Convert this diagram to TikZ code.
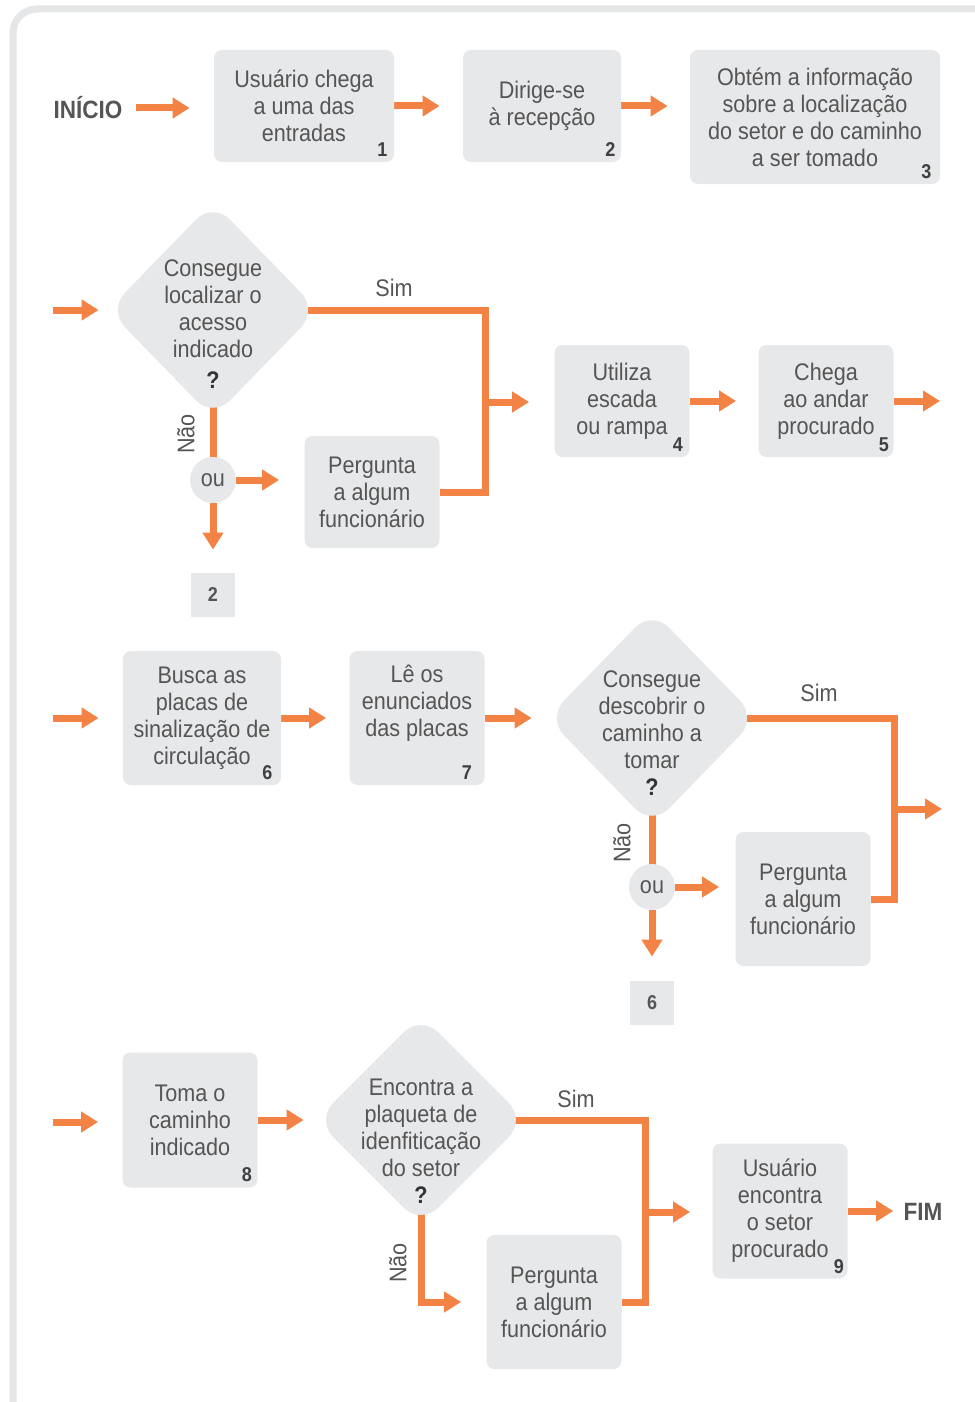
\documentclass[tikz,border=0pt]{standalone}
\usepackage{fontspec}
\setmainfont{Liberation Sans}[FakeStretch=0.9]
\usetikzlibrary{shapes.geometric,arrows.meta,backgrounds}
\definecolor{flowor}{RGB}{242,131,69}
\definecolor{boxgray}{RGB}{231,232,234}
\definecolor{txtgray}{RGB}{85,85,85}
\definecolor{framegray}{RGB}{229,230,232}
\begin{document}
\begin{tikzpicture}[x=0.5pt,y=-0.5pt,
  every node/.style={font=\fontsize{12}{13.5}\selectfont,text=txtgray},
  box/.style={fill=boxgray,rounded corners=4pt,align=center,inner sep=0pt,minimum width=67.5pt,minimum height=56pt},
  choice/.style={diamond,fill=boxgray,rounded corners=12pt,minimum width=105pt,minimum height=108pt,inner sep=0pt},
  orc/.style={circle,fill=boxgray,minimum size=23pt,inner sep=0pt},
  jump/.style={fill=boxgray,minimum size=22pt,inner sep=0pt,font=\fontsize{10}{12}\selectfont\bfseries},
  num/.style={font=\fontsize{10}{11}\selectfont\bfseries,text=black!75,inner sep=0pt},
  big/.style={font=\fontsize{12.5}{15}\selectfont\bfseries,inner sep=0pt},
  link/.style={draw=flowor,line width=3.5pt,line join=miter},
  flow/.style={link,-{Triangle[width=10pt,length=8.5pt]}}]
\path[use as bounding box,clip] (0,0) rectangle (974,1402);
\begin{scope}[on background layer]
\fill[white] (0,0) rectangle (974,1402);
\draw[framegray,line width=3.5pt,rounded corners=12pt] (13,9) rectangle (1010,1440);
\end{scope}

% linha 1
\node[big] (ini) at (88,108) {INÍCIO};
\node[box,minimum width=90pt] (b1) at (304,106) {Usuário chega\\a uma das\\entradas};
\node[box,minimum width=79pt] (b2) at (542,106) {Dirige-se\\à recepção};
\node[box,minimum width=125pt,minimum height=67pt] (b3) at (815,117) {Obtém a informação\\sobre a localização\\do setor e do caminho\\a ser tomado};
\node[num] (n1) at ([shift={(-12,-13)}]b1.south east) {1};
\node[num] (n2) at ([shift={(-11,-13)}]b2.south east) {2};
\node[num] (n3) at ([shift={(-14,-13)}]b3.south east) {3};

% linha 2
\coordinate (in2) at (53,310);
\node[choice] (d1) at (213,310) {};
\node[align=center] (t1) at (213,324) {Consegue\\localizar o\\acesso\\indicado\\[2pt]{\bfseries\color{black!80}?}};
\node[orc] (ou1) at (213,480) {ou};
\node[jump] (go2) at (213,595) {2};
\node[box] (p1) at (372,492) {Pergunta\\a algum\\funcionário};
\coordinate (j1) at (485,402);
\node[box] (b4) at (622,401) {Utiliza\\escada\\ou rampa};
\node[box] (b5) at (826,401) {Chega\\ao andar\\procurado};
\coordinate (out2) at (940,402);
\node[num] (n4) at ([shift={(-12,-13)}]b4.south east) {4};
\node[num] (n5) at ([shift={(-10,-13)}]b5.south east) {5};
\node (sim1) at (394,288) {Sim};
\node[rotate=90] (nao1) at (186,434) {Não};

% linha 3
\coordinate (in3) at (53,718);
\node[box,minimum width=79pt,minimum height=67pt] (b6) at (202,718) {Busca as\\placas de\\sinalização de\\circulação};
\node[box,minimum height=67pt,text depth=17.5pt] (b7) at (417,718) {Lê os\\enunciados\\das placas};
\node[num] (n6) at ([shift={(-14,-13)}]b6.south east) {6};
\node[num] (n7) at ([shift={(-18,-13)}]b7.south east) {7};
\node[choice] (d2) at (652,718) {};
\node[align=center] (t2) at (652,733) {Consegue\\descobrir o\\caminho a\\tomar\\{\bfseries\color{black!80}?}};
\node[orc] (ou2) at (652,887) {ou};
\node[jump] (go6) at (652,1003) {6};
\node[box,minimum height=67pt] (p2) at (803,899) {Pergunta\\a algum\\funcionário};
\coordinate (j2) at (894,809);
\coordinate (out3) at (942,809);
\node (sim2) at (819,693) {Sim};
\node[rotate=90] (nao2) at (622,843) {Não};

% linha 4
\coordinate (in4) at (53,1122);
\node[box,minimum height=67.5pt] (b8) at (190,1120) {Toma o\\caminho\\indicado};
\node[num] (n8) at ([shift={(-11,-13)}]b8.south east) {8};
\node[choice,minimum height=105pt] (d3) at (421,1120) {};
\node[align=center] (t3) at (421,1141) {Encontra a\\plaqueta de\\idenfiticação\\do setor\\{\bfseries\color{black!80}?}};
\node[box,minimum height=67pt] (p3) at (554,1302) {Pergunta\\a algum\\funcionário};
\coordinate (j3) at (645,1212);
\node[box,minimum height=67.5pt] (b9) at (780,1211) {Usuário\\encontra\\o setor\\procurado};
\node[num] (n9) at ([shift={(-9,-12)}]b9.south east) {9};
\node[big] (fim) at (923,1212) {FIM};
\node (sim3) at (576,1099) {Sim};
\node[rotate=90] (nao3) at (398,1263) {Não};

\begin{scope}[on background layer]
\draw[flow,shorten <=6.5pt,shorten >=12pt] (ini.east) -- (ini.east -| b1.west);
\draw[flow,shorten >=11.5pt] (b1.east) -- (b1.east -| b2.west);
\draw[flow,shorten >=11pt] (b2.east) -- (b2.east -| b3.west);

\draw[flow,shorten >=4.5pt] (in2) -- (d1.west);
\draw[link] (d1.center) -| (j1 |- p1.east) -- (p1.east);
\draw[link] (d1.center) -- (ou1.center);
\draw[flow,shorten >=12.5pt] (ou1.east) -- (ou1.east -| p1.west);
\draw[flow,shorten >=11.5pt] (ou1.south) -- (go2.north);
\draw[flow,shorten >=12.5pt] (j1) -- (j1 -| b4.west);
\draw[flow,shorten >=11pt] (b4.east) -- (b4.east -| b5.west);
\draw[flow] (b5.east) -- (b5.east -| out2);

\draw[flow,shorten >=12pt] (in3) -- (b6.west);
\draw[flow,shorten >=11.5pt] (b6.east) -- (b7.west);
\draw[flow,shorten >=7.5pt] (b7.east) -- (d2.west);
\draw[link] (d2.center) -| (j2 |- p2.east) -- (p2.east);
\draw[link] (d2.center) -- (ou2.center);
\draw[flow,shorten >=8pt] (ou2.east) -- (ou2.east -| p2.west);
\draw[flow,shorten >=12pt] (ou2.south) -- (go6.north);
\draw[flow] (j2) -- (out3);

\draw[flow,shorten >=12pt] (in4) -- (in4 -| b8.west);
\draw[flow,shorten >=6pt] (b8.east) -- (b8.east -| d3.west);
\draw[link] (d3.center) -| (j3 |- p3.east) -- (p3.east);
\draw[flow,shorten >=12.5pt] (d3.center) |- (p3.west);
\draw[flow,shorten >=11pt] (j3) -- (j3 -| b9.west);
\draw[flow,shorten >=5pt] (b9.east) -- (b9.east -| fim.west);
\end{scope}
\end{tikzpicture}
\end{document}
